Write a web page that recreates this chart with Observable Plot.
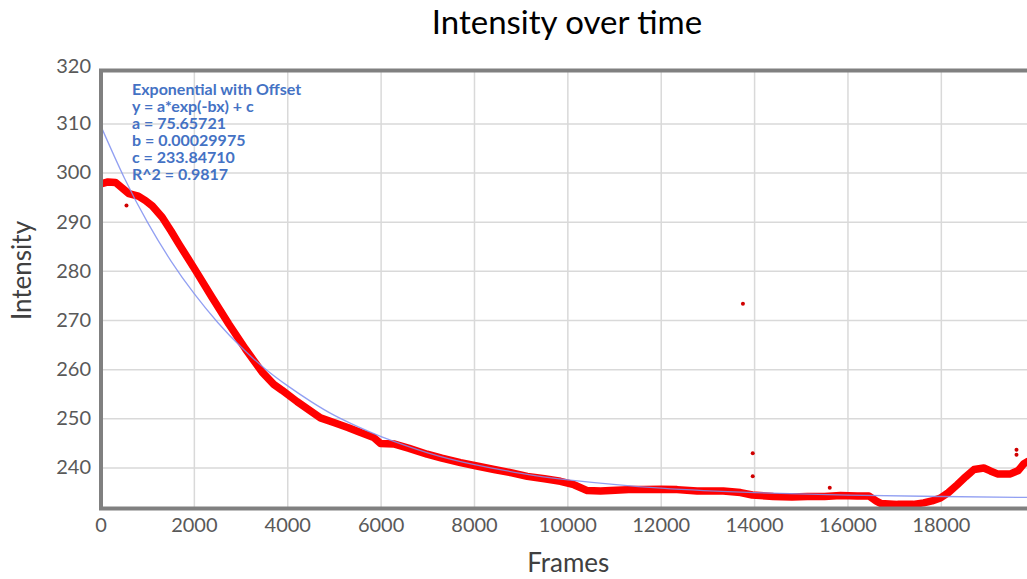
<!DOCTYPE html>
<html>
<head>
<meta charset="utf-8">
<script src="https://cdn.jsdelivr.net/npm/d3@7"></script>
<script src="https://cdn.jsdelivr.net/npm/@observablehq/plot@0.6"></script>
<style>
  html, body { margin: 0; padding: 0; background: #fff; overflow: hidden; width: 1027px; height: 579px; }
  #title { height: 50px; line-height: 42px; padding-left: 107px; width: 920px; text-align: center;
           font-family: Lato, "Noto Sans", sans-serif; font-size: 33px; color: #000; white-space: nowrap; }
  #chart { width: 1035px; height: 529px; overflow: hidden; }
  #chart svg { display: block; max-width: none !important; width: 1035px !important; height: 529px !important; }
</style>
</head>
<body>
<div id="title">Intensity over time</div>
<div id="chart"></div>
<script>
// Measured red band (frame, intensity)
const bandFrames = [0,150,310,450,596,800,953,1100,1310,1500,1667,2024,2380,2737,3095,3452,3700,3880,4200,4700,5000,5300,5560,5840,5985,6270,6600,6985,7300,7700,8050,8420,8800,9130,9500,9840,10130,10415,10700,10915,11300,11630,12000,12340,12770,13330,13700,13950,14400,14800,15130,15500,15840,16200,16450,16600,16700,17060,17400,17620,17800,17980,18150,18340,18520,18700,18910,19050,19200,19480,19650,19760,19850];
const bandIntensity = [297.8,298.2,298.1,297.0,295.8,295.3,294.4,293.3,291.0,288.2,285.6,280.2,274.7,269.3,264.2,259.5,257.0,255.8,253.5,250.2,249.2,248.2,247.2,246.2,245.0,244.9,244.0,242.8,242.0,241.1,240.4,239.7,239.0,238.3,237.8,237.3,236.6,235.4,235.3,235.4,235.6,235.6,235.7,235.6,235.3,235.3,235.0,234.5,234.2,234.1,234.2,234.2,234.4,234.3,234.3,233.3,232.8,232.6,232.6,232.9,233.3,233.9,235.0,236.6,238.2,239.7,240.0,239.4,238.8,238.8,239.5,240.8,241.3];

// Isolated points
const outlierFrames = [546,13750,13960,13960,15610,19610,19610];
const outlierIntensity = [293.4,273.4,243.0,238.3,236.0,243.7,242.7];

// Fitted curve
const fitFrames = [0,500,1000,1500,2000,2500,3000,3500,4000,4500,5000,5500,6000,7000,8000,9000,10000,12000,14000,16000,18000,20000];
const fitIntensity = [309.5,299.0,289.9,282.1,275.4,269.6,264.6,260.3,256.7,253.5,250.7,248.4,246.4,243.1,240.7,238.9,237.6,235.9,235.0,234.5,234.2,234.0];

const xTicks = [0,2000,4000,6000,8000,10000,12000,14000,16000,18000];
const yTicks = [240,250,260,270,280,290,300,310];
const yTopTick = [320];

const annotationLines = ["Exponential with Offset","y = a*exp(-bx) + c","a = 75.65721","b = 0.00029975","c = 233.84710","R^2 = 0.9817"];

const band = bandFrames.map((f,i) => ({frame: f, intensity: bandIntensity[i]}));
const outliers = outlierFrames.map((f,i) => ({frame: f, intensity: outlierIntensity[i]}));
const fit = fitFrames.map((f,i) => ({frame: f, intensity: fitIntensity[i]}));

const chart = Plot.plot({
  width: 1035,
  height: 529,
  marginTop: 20,
  marginBottom: 71,
  marginLeft: 100.5,
  marginRight: 0,
  style: {fontFamily: "Lato, 'Noto Sans', sans-serif", background: "#fff"},
  x: {domain: [0, 20017]},
  y: {domain: [231.76, 320.86]},
  marks: [
    Plot.gridX(xTicks, {stroke: "#d9d9d9", strokeOpacity: 1, strokeWidth: 1.5}),
    Plot.gridY(yTicks, {stroke: "#d9d9d9", strokeOpacity: 1, strokeWidth: 1.5}),
    Plot.axisX(xTicks, {tickSize: 0, tickPadding: 9, fontSize: 20, color: "#595959", label: null, tickFormat: d => String(d)}),
    Plot.axisY(yTicks, {tickSize: 0, tickPadding: 10, fontSize: 20, color: "#595959", label: null}),
    Plot.axisY(yTopTick, {tickSize: 0, tickPadding: 10, fontSize: 20, color: "#595959", label: null, dy: -8}),
    Plot.line(band, {x: "frame", y: "intensity", stroke: "#ff0000", strokeWidth: 7.5, clip: true}),
    Plot.dot(outliers, {x: "frame", y: "intensity", r: 2, fill: "#d00000", stroke: null}),
    Plot.line(fit, {x: "frame", y: "intensity", stroke: "#7f8ff0", strokeOpacity: 0.85, strokeWidth: 1.3, curve: "natural", clip: true}),
    Plot.frame({stroke: "#808080", strokeWidth: 4}),
    Plot.text([annotationLines.join("\n")], {frameAnchor: "top-left", text: d => d, dx: 31, dy: 12, textAnchor: "start", lineAnchor: "top", lineHeight: 1.07, fontSize: 16, fontWeight: "bold", fill: "#4472c4"}),
    Plot.text(["Intensity"], {frameAnchor: "left", text: d => d, dx: -78, dy: -19, rotate: -90, textAnchor: "middle", lineAnchor: "middle", fontSize: 26, fill: "#404040"}),
    Plot.text(["Frames"], {frameAnchor: "bottom", text: d => d, dy: 55, textAnchor: "middle", lineAnchor: "middle", fontSize: 26, fill: "#404040"})
  ]
});
document.getElementById("chart").appendChild(chart);
</script>
</body>
</html>
